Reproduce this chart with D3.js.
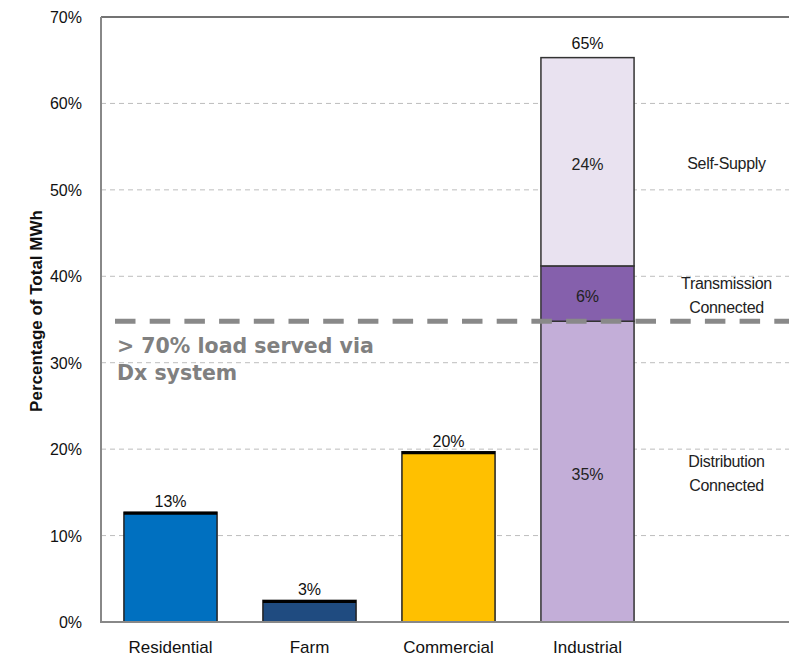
<!DOCTYPE html>
<html><head><meta charset="utf-8">
<script src="https://cdn.jsdelivr.net/npm/d3@7"></script>
<style>body{margin:0;background:#fff}svg{display:block}</style>
</head><body>
<svg id="c" width="789" height="657"></svg>
<script>
const categories = ["Residential", "Farm", "Commercial", "Industrial"];
const singleValues = [12.7, 2.5, 19.7];
const singleLabels = ["13%", "3%", "20%"];
const singleColors = ["#0070C0", "#1F4B80", "#FFC000"];
const segments = ["Distribution Connected", "Transmission Connected", "Self-Supply"];
const segmentLines = [["Distribution", "Connected"], ["Transmission", "Connected"], ["Self-Supply"]];
const industrialValues = [34.8, 6.4, 24.1];
const industrialLabels = ["35%", "6%", "24%"];
const industrialTotalLabel = "65%";
const segmentColors = ["#C3AED8", "#8560AC", "#E9E2F0"];
const yTicks = [0, 10, 20, 30, 40, 50, 60, 70];
const thresholdValue = 34.8;
const annotation = ["> 70% load served via", "Dx system"];
const yTitle = "Percentage of Total MWh";

(function () {
const svg = d3.select("#c");
const pLeft = 101, pTop = 17, pBottom = 622, pRight = 789;
const x = d3.scaleBand().domain([...categories, "labels"]).range([pLeft, 796]).paddingInner(0.33).paddingOuter(0.165);
const y = d3.scaleLinear().domain([0, 70]).range([pBottom, pTop]);
const font = "Liberation Sans, Arial, sans-serif";

// gridlines
svg.append("g").selectAll("line").data(yTicks.filter(t => t > 0 && t < 70)).join("line")
  .attr("x1", pLeft).attr("x2", pRight).attr("y1", d => y(d)).attr("y2", d => y(d))
  .attr("stroke", "#bdbdbd").attr("stroke-width", 1).attr("stroke-dasharray", "5,4");

// top line
svg.append("line").attr("x1", pLeft).attr("x2", pRight).attr("y1", y(70)).attr("y2", y(70))
  .attr("stroke", "#444").attr("stroke-width", 1.5);

// y tick labels
svg.append("g").selectAll("text").data(yTicks).join("text")
  .attr("x", 82).attr("y", d => y(d) + 6).attr("text-anchor", "end")
  .attr("font-family", font).attr("font-size", 16).attr("fill", "#111")
  .text(d => d + "%");

// y title
svg.append("text").attr("transform", `translate(42,311) rotate(-90)`)
  .attr("text-anchor", "middle").attr("font-family", font)
  .attr("font-size", 17).attr("font-weight", "bold").attr("fill", "#111").text(yTitle);

// single bars
const sb = svg.append("g");
categories.slice(0, 3).forEach((c, i) => {
  sb.append("rect").attr("x", x(c)).attr("width", x.bandwidth())
    .attr("y", y(singleValues[i])).attr("height", y(0) - y(singleValues[i]))
    .attr("fill", singleColors[i]).attr("stroke", "#222").attr("stroke-width", 1.5);
  sb.append("line").attr("x1", x(c)).attr("x2", x(c) + x.bandwidth())
    .attr("y1", y(singleValues[i]) + 1).attr("y2", y(singleValues[i]) + 1)
    .attr("stroke", "#000").attr("stroke-width", 3);
  sb.append("text").attr("x", x(c) + x.bandwidth() / 2).attr("y", y(singleValues[i]) - 5)
    .attr("text-anchor", "middle").attr("font-family", font)
    .attr("font-size", 16).attr("fill", "#111").text(singleLabels[i]);
});

// industrial stack
const stackG = svg.append("g");
let cum = 0;
const ind = "Industrial";
industrialValues.forEach((v, i) => {
  const y0 = cum, y1 = cum + v;
  cum = y1;
  const cy = (y(y0) + y(y1)) / 2;
  stackG.append("rect").attr("x", x(ind)).attr("width", x.bandwidth())
    .attr("y", y(y1)).attr("height", y(y0) - y(y1))
    .attr("fill", segmentColors[i]).attr("stroke", "#333").attr("stroke-width", 1.5);
  stackG.append("text").attr("x", x(ind) + x.bandwidth() / 2).attr("y", cy + 8)
    .attr("text-anchor", "middle").attr("font-family", font)
    .attr("font-size", 16).attr("fill", "#222").text(industrialLabels[i]);
  const lines = segmentLines[i];
  lines.forEach((t, j) => {
    svg.append("text").attr("x", x("labels") + x.bandwidth() / 2)
      .attr("y", cy + 7 + (j - (lines.length - 1) / 2) * 24)
      .attr("text-anchor", "middle").attr("font-family", font)
      .attr("font-size", 16).attr("fill", "#222").attr("letter-spacing", "-0.3").text(t);
  });
});
stackG.append("text").attr("x", x(ind) + x.bandwidth() / 2).attr("y", y(cum) - 9)
  .attr("text-anchor", "middle").attr("font-family", font)
  .attr("font-size", 16).attr("fill", "#111").text(industrialTotalLabel);

// axes lines
svg.append("line").attr("x1", pLeft).attr("x2", pLeft).attr("y1", pTop).attr("y2", pBottom + 1)
  .attr("stroke", "#888").attr("stroke-width", 2);
svg.append("line").attr("x1", pLeft).attr("x2", pRight).attr("y1", pBottom).attr("y2", pBottom)
  .attr("stroke", "#888").attr("stroke-width", 2);

// category labels
svg.append("g").selectAll("text").data(categories).join("text")
  .attr("x", d => x(d) + x.bandwidth() / 2).attr("y", 653).attr("text-anchor", "middle")
  .attr("font-family", font).attr("font-size", 17).attr("fill", "#111")
  .text(d => d);

// threshold dashed line
svg.append("line").attr("x1", 115).attr("x2", pRight).attr("y1", y(thresholdValue)).attr("y2", y(thresholdValue))
  .attr("stroke", "#898989").attr("stroke-width", 5).attr("stroke-dasharray", "20.5,14.2");

// annotation
annotation.forEach((t, i) => {
  svg.append("text").attr("x", 117).attr("y", 353 + i * 27)
    .attr("font-family", "'DejaVu Sans', sans-serif").attr("font-weight", "bold")
    .attr("font-size", 20.5).attr("fill", "#808080").text(t);
});
})();
</script>
</body></html>
